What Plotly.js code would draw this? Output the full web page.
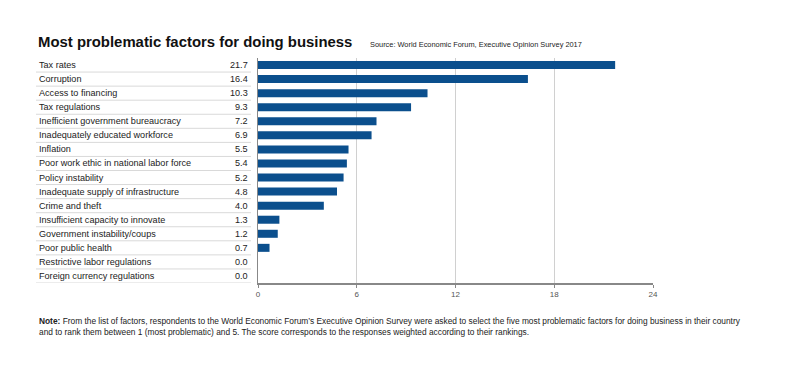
<!DOCTYPE html>
<html><head><meta charset="utf-8">
<script src="https://cdn.plot.ly/plotly-3.0.1.min.js"></script>
<style>html,body{margin:0;padding:0;background:#fff;}#chart{width:792px;height:389px;}</style>
</head><body><div id="chart"></div>
<script>
const categories = ["Tax rates","Corruption","Access to financing","Tax regulations","Inefficient government bureaucracy","Inadequately educated workforce","Inflation","Poor work ethic in national labor force","Policy instability","Inadequate supply of infrastructure","Crime and theft","Insufficient capacity to innovate","Government instability/coups","Poor public health","Restrictive labor regulations","Foreign currency regulations"];
const values = [21.7,16.4,10.3,9.3,7.2,6.9,5.5,5.4,5.2,4.8,4.0,1.3,1.2,0.7,0.0,0.0];
const xTicks = [0,6,12,18,24];

const L=258, R=653, T=58, B=283;
const W=792, H=389;
const pw=R-L, ph=B-T;
const px = x => (x-L)/pw;
const py = y => (B-y)/ph;

const annotations=[], shapes=[];
categories.forEach((c,i)=>{
  annotations.push({xref:'paper',yref:'y',x:px(37),y:i,text:c,showarrow:false,xanchor:'left',yanchor:'middle',font:{family:'Liberation Sans, Arial',size:9.1,color:'#222'}});
  annotations.push({xref:'paper',yref:'y',x:px(250),y:i,text:values[i].toFixed(1),showarrow:false,xanchor:'right',yanchor:'middle',font:{family:'Liberation Sans, Arial',size:9.1,color:'#222'}});
  shapes.push({type:'line',xref:'paper',yref:'y',x0:px(36),x1:px(251),y0:i+0.5,y1:i+0.5,line:{color:'#d9d9d9',width:1}});
});
annotations.push({xref:'paper',yref:'paper',x:px(36),y:py(42),text:'<b>Most problematic factors for doing business</b>',showarrow:false,xanchor:'left',yanchor:'middle',font:{family:'Liberation Sans, Arial',size:14.9,color:'#111'}});
annotations.push({xref:'paper',yref:'paper',x:px(368),y:py(44),text:'Source: World Economic Forum, Executive Opinion Survey 2017',showarrow:false,xanchor:'left',yanchor:'middle',font:{family:'Liberation Sans, Arial',size:7.4,color:'#222'}});
annotations.push({xref:'paper',yref:'paper',x:px(37),y:py(326),text:'<b>Note:</b> From the list of factors, respondents to the World Economic Forum\u2019s Executive Opinion Survey were asked to select the five most problematic factors for doing business in their country<br>and to rank them between 1 (most problematic) and 5. The score corresponds to the responses weighted according to their rankings.',showarrow:false,xanchor:'left',yanchor:'middle',align:'left',font:{family:'Liberation Sans, Arial',size:8.35,color:'#222'}});

Plotly.newPlot('chart',[{
  type:'bar',orientation:'h',y:categories,x:values,width:0.57,
  marker:{color:'#0b4f8d'},hoverinfo:'none'
}],{
  width:W,height:H,margin:{l:L,r:W-R,t:T,b:H-B,pad:0},
  paper_bgcolor:'#fff',plot_bgcolor:'#fff',showlegend:false,
  xaxis:{range:[0,24],tickvals:xTicks,ticktext:xTicks.map(String),showgrid:true,gridcolor:'#d0d0d0',gridwidth:1,zeroline:false,
    showline:true,linecolor:'#888',linewidth:1.5,ticks:'outside',ticklen:3,tickcolor:'#888',
    tickfont:{family:'Liberation Sans, Arial',size:8,color:'#555'}},
  yaxis:{type:'category',categoryorder:'array',categoryarray:categories,range:[15.5,-0.5],showticklabels:false,showgrid:false,zeroline:false,
    showline:true,linecolor:'#888',linewidth:1.5,ticks:''},
  annotations:annotations,shapes:shapes,bargap:0.4
},{staticPlot:true});
</script></body></html>
